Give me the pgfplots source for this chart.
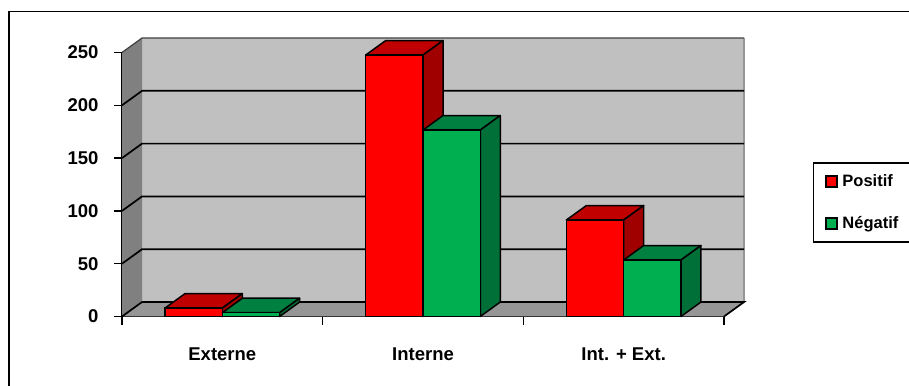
\documentclass[border=0pt]{standalone}
\usepackage{fontspec}
\setmainfont{Liberation Sans}
\usepackage{pgfplots}
\pgfplotsset{compat=1.18}

\definecolor{wallback}{HTML}{C0C0C0}
\definecolor{wallside}{HTML}{808080}
\definecolor{wallfloor}{HTML}{969696}
\definecolor{redfront}{HTML}{FF0000}
\definecolor{redtop}{HTML}{C00000}
\definecolor{redside}{HTML}{A00000}
\definecolor{greenfront}{HTML}{00B050}
\definecolor{greentop}{HTML}{008040}
\definecolor{greenside}{HTML}{007038}

\pgfplotsset{
  face/.style={draw=black, line width=1.5pt, line join=round, forget plot},
  wall/.style={draw=none, forget plot},
  gridline/.style={draw=black, line width=1.7pt, forget plot},
  swatch/.style={legend image code/.code={
    \draw[draw=black, line width=2pt, fill=#1] (4pt,-5.5pt) rectangle (15pt,5.5pt);
    \path (18pt,0pt);}},
}

\begin{document}
\begin{tikzpicture}[x=1pt,y=1pt]
\useasboundingbox (0,0) rectangle (909,385);
% frame around the chart area
\draw[black, line width=1.5pt] (9,-5) -- (9,373.5) -- (915,373.5);

\begin{axis}[
  at={(122pt,68.5pt)}, anchor=south west,
  scale only axis, width=602pt, height=264pt,
  xmin=-0.5, xmax=2.5, ymin=0, ymax=250,
  clip=false,
  axis x line=bottom, axis y line=left,
  axis line style={-, black, line width=1.7pt},
  tick style={black, line width=1.5pt},
  tick align=outside,
  major tick length=8pt,
  xtick={-0.5,0.5,1.5,2.5}, xticklabels={},
  extra x ticks={0,1,2},
  extra x tick labels={Externe,Interne,Int. + Ext.},
  extra x tick style={tick style={draw=none},
    xticklabel style={yshift=-20pt}},
  ytick={0,50,100,150,200,250},
  tick label style={font=\fontsize{18.5}{21}\selectfont\bfseries},
  yticklabel style={xshift=-12pt},
  /pgf/number format/assume math mode=true,
  legend style={
    at={(axis description cs:1.1478,0.432)}, anchor=west,
    draw=black, line width=1.5pt,
    font=\fontsize{16.5}{18}\selectfont\bfseries,
    inner xsep=11pt, inner ysep=10pt,
    row sep=24pt,
    text width=62pt,
  },
  legend cell align=left,
]

% walls and floor of the box
\addplot[wall, fill=wallback] coordinates {(-0.4003,13.7)(2.5997,13.7)(2.5997,263.7)(-0.4003,263.7)} --cycle;
\addplot[wall, fill=wallside] coordinates {(-0.5,0)(-0.4003,13.7)(-0.4003,263.7)(-0.5,250)} --cycle;
\addplot[wall, fill=wallfloor] coordinates {(-0.5,0)(2.5,0)(2.5997,13.7)(-0.4003,13.7)} --cycle;
\addplot[draw=wallfloor, line width=2pt, forget plot] coordinates {(2.5997,13.7)(2.5997,263.7)};

% gridlines, running round the side wall
\addplot[gridline] coordinates {(-0.5,0)(-0.4003,13.7)(2.5997,13.7)(2.5,0)};
\addplot[gridline] coordinates {(-0.5,50)(-0.4003,63.7)(2.5997,63.7)};
\addplot[gridline] coordinates {(-0.5,100)(-0.4003,113.7)(2.5997,113.7)};
\addplot[gridline] coordinates {(-0.5,150)(-0.4003,163.7)(2.5997,163.7)};
\addplot[gridline] coordinates {(-0.5,200)(-0.4003,213.7)(2.5997,213.7)};
\addplot[gridline, draw=black!75, line width=1.2pt] coordinates {(-0.5,250)(-0.4003,263.7)(2.5997,263.7)};

% Positif: top and side faces
\addplot[face, fill=redtop]  coordinates {(-0.2855,8)(0,8)(0.0997,21.7)(-0.1858,21.7)} --cycle;
\addplot[face, fill=redside] coordinates {(0,0)(0.0997,13.7)(0.0997,21.7)(0,8)} --cycle;
\addplot[face, fill=redtop]  coordinates {(0.7145,247.6)(1,247.6)(1.0997,261.3)(0.8142,261.3)} --cycle;
\addplot[face, fill=redside] coordinates {(1,0)(1.0997,13.7)(1.0997,261.3)(1,247.6)} --cycle;
\addplot[face, fill=redtop]  coordinates {(1.7145,91.4)(2,91.4)(2.0997,105.1)(1.8142,105.1)} --cycle;
\addplot[face, fill=redside] coordinates {(2,0)(2.0997,13.7)(2.0997,105.1)(2,91.4)} --cycle;

% Positif: front faces
\addplot[ybar, bar width=57.3pt, bar shift=-28.65pt, fill=redfront, draw=black,
         line width=1.5pt, swatch=redfront]
  coordinates {(0,8)(1,247.6)(2,91.4)};
\addlegendentry{Positif}

% Négatif: top and side faces
\addplot[face, fill=greentop]  coordinates {(0,3.6)(0.2855,3.6)(0.3852,17.3)(0.0997,17.3)} --cycle;
\addplot[face, fill=greenside] coordinates {(0.2855,0)(0.3852,13.7)(0.3852,17.3)(0.2855,3.6)} --cycle;
\addplot[face, fill=greentop]  coordinates {(1,176.6)(1.2855,176.6)(1.3852,190.3)(1.0997,190.3)} --cycle;
\addplot[face, fill=greenside] coordinates {(1.2855,0)(1.3852,13.7)(1.3852,190.3)(1.2855,176.6)} --cycle;
\addplot[face, fill=greentop]  coordinates {(2,53.5)(2.2855,53.5)(2.3852,67.2)(2.0997,67.2)} --cycle;
\addplot[face, fill=greenside] coordinates {(2.2855,0)(2.3852,13.7)(2.3852,67.2)(2.2855,53.5)} --cycle;

% Négatif: front faces
\addplot[ybar, bar width=57.3pt, bar shift=28.65pt, fill=greenfront, draw=black,
         line width=1.5pt, swatch=greenfront]
  coordinates {(0,3.6)(1,176.6)(2,53.5)};
\addlegendentry{Négatif}

\end{axis}
\end{tikzpicture}
\end{document}
